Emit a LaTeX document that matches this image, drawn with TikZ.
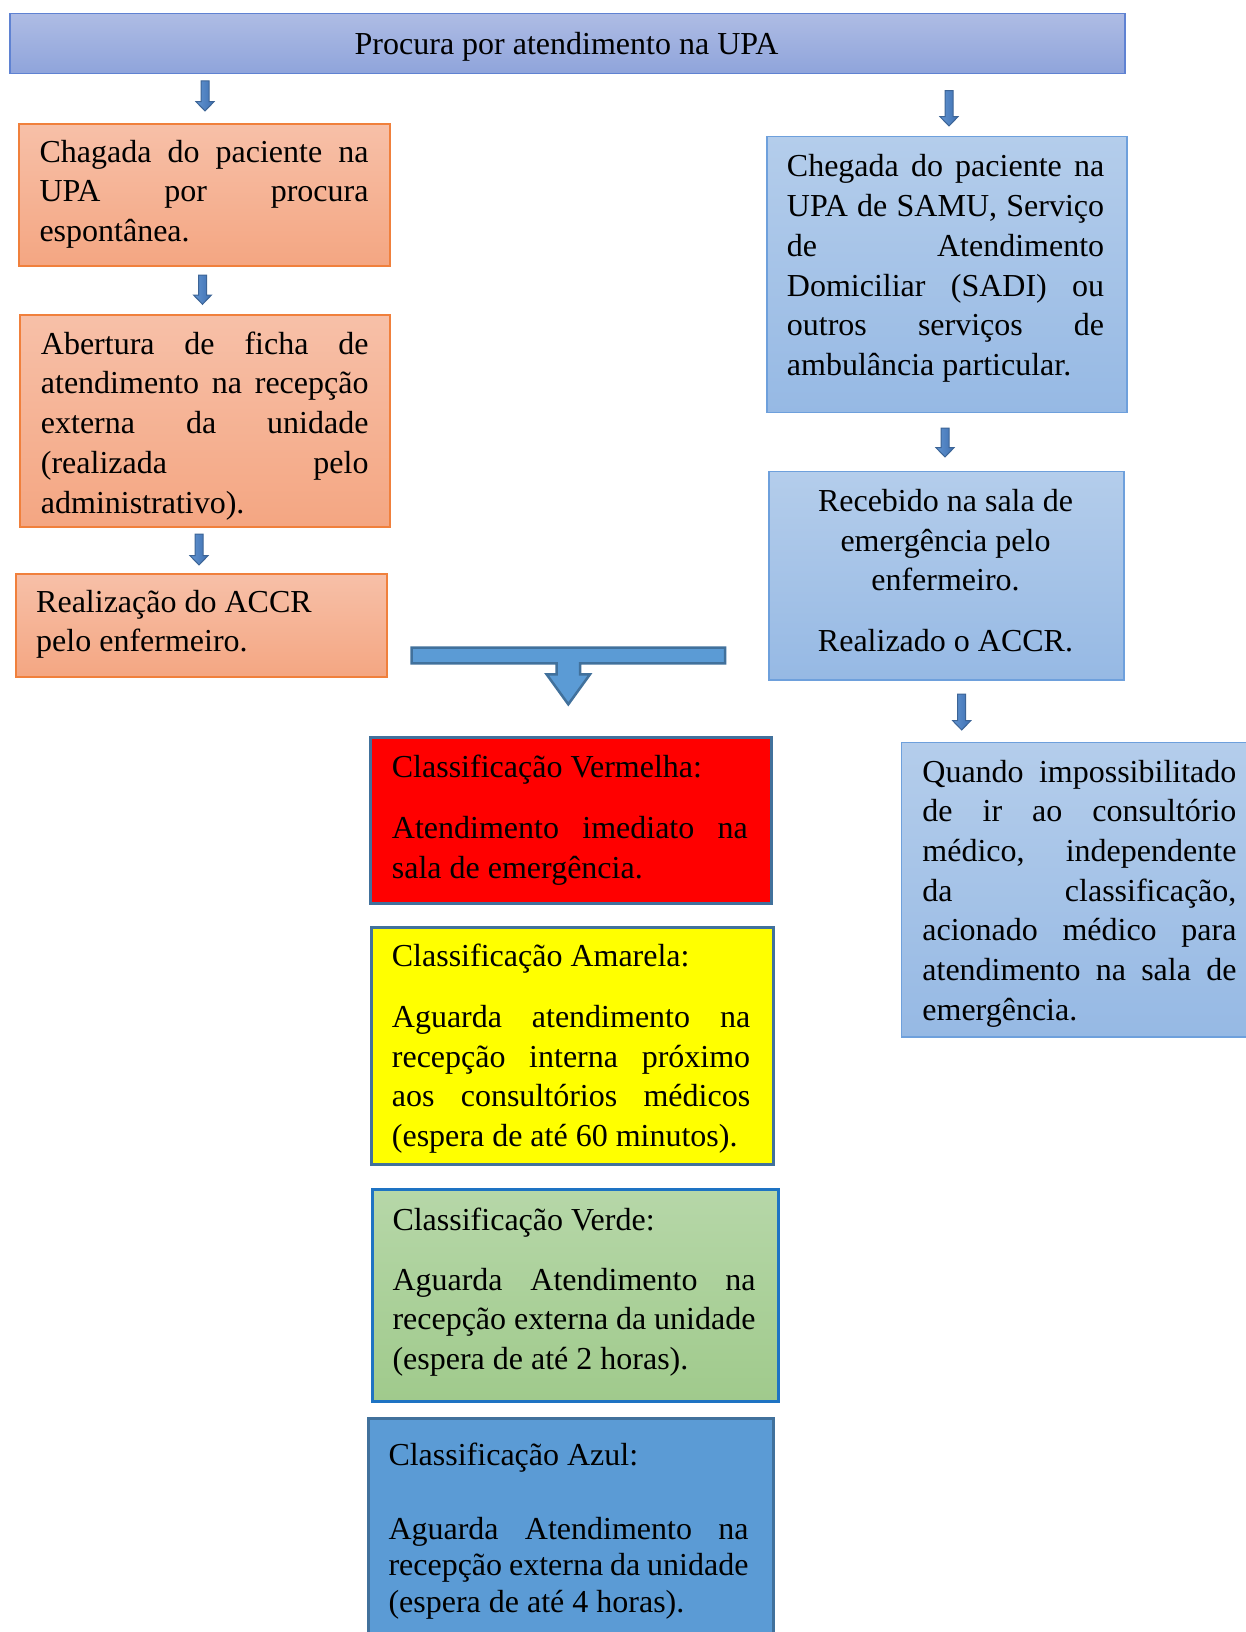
\documentclass[tikz,border=0pt]{standalone}
\usepackage{fontspec}
\setmainfont{Liberation Serif}
\usetikzlibrary{calc}

% palette
\definecolor{barTop}{RGB}{174,188,228}
\definecolor{barBot}{RGB}{143,164,219}
\definecolor{barLine}{RGB}{95,130,210}
\definecolor{orTop}{RGB}{247,192,168}
\definecolor{orBot}{RGB}{244,166,130}
\definecolor{orLine}{RGB}{240,128,60}
\definecolor{skyTop}{RGB}{180,205,235}
\definecolor{skyBot}{RGB}{150,185,228}
\definecolor{skyLine}{RGB}{110,160,220}
\definecolor{frameLine}{RGB}{65,113,156}
\definecolor{redFill}{RGB}{255,0,0}
\definecolor{yelFill}{RGB}{255,255,0}
\definecolor{grnTop}{RGB}{182,215,168}
\definecolor{grnBot}{RGB}{160,202,140}
\definecolor{grnLine}{RGB}{30,115,195}
\definecolor{azul}{RGB}{91,155,213}
\definecolor{arL}{RGB}{98,148,208}
\definecolor{arR}{RGB}{62,112,178}
\definecolor{arLine}{RGB}{60,100,150}

% width of the current text column, and one justified line of it
\newlength\colw
\newcommand\jl[1]{\leavevmode\hbox to \colw{\spaceskip=0.25em plus 1fil minus 0.1em\relax #1}}

% small block arrow pointing down: x, top, bottom
\newcommand\downblock[3]{%
  \path[smallarrow] (#1-4,#2) -- (#1+4,#2) -- (#1+4,#3-9.3) -- (#1+9,#3-9.3)
    -- (#1,#3) -- (#1-9,#3-9.3) -- (#1-4,#3-9.3) -- cycle;}

\tikzset{
  box/.style={rectangle, anchor=north west, inner sep=0pt, draw},
  titlebar/.style={box, top color=barTop, bottom color=barBot, draw=barLine, line width=1.5pt},
  orangebox/.style={box, top color=orTop, bottom color=orBot, draw=orLine, line width=2pt},
  skybox/.style={box, top color=skyTop, bottom color=skyBot, draw=skyLine, line width=1.5pt},
  classbox/.style={box, line width=3pt},
  txt/.style={anchor=base west, inner sep=0pt, align=flush left, text width=#1,
    execute at begin node={\setlength\colw{#1}},
    font=\fontsize{32}{39.6}\selectfont},
  smallarrow/.style={left color=arL, right color=arR, draw=arLine, line width=1pt},
  bigarrow/.style={fill=azul, draw=frameLine, line width=2.5pt, line join=miter},
}

\begin{document}
\frenchspacing
\begin{tikzpicture}[x=1pt, y=-1pt]
\useasboundingbox (0,0) rectangle (1246,1632);
\fill[white] (0,0) rectangle (1246,1632);
\clip (0,0) rectangle (1246,1632);

% title bar
\node[titlebar, minimum width=1115pt, minimum height=59.7pt] (top) at (9,13) {};
\node[anchor=base, inner sep=0pt, font=\fontsize{32}{39.5}\selectfont] (topt)
  at (566.5,54.3) {Procura por atendimento na UPA};

% left column: walk-in patients
\node[orangebox, minimum width=371pt, minimum height=142.3pt] (l1) at (18.3,122.7) {};
\node[txt=329pt] (l1t) at (39.3,162.2)
  {\jl{Chagada do paciente na}\\ \jl{UPA por procura}\\ espontânea.};

\node[orangebox, minimum width=370pt, minimum height=212pt] (l2) at (19.3,314) {};
\node[txt=327.6pt, font=\fontsize{32}{39.8}\selectfont] (l2t) at (40.7,354)
  {\jl{Abertura de ficha de}\\ \jl{atendimento na recepção}\\ \jl{externa da unidade}\\
   \jl{(realizada pelo}\\ administrativo).};

\node[orangebox, minimum width=371pt, minimum height=103.3pt] (l3) at (15,572.7) {};
\node[txt=340pt] (l3t) at (36,612)
  {Realização do ACCR\\ pelo enfermeiro.};

% right column: ambulance arrivals
\node[skybox, minimum width=360pt, minimum height=275.7pt] (r1) at (766,136) {};
\node[txt=317.3pt, font=\fontsize{32}{39.8}\selectfont] (r1t) at (786.7,176.8)
  {\jl{Chegada do paciente na}\\ \jl{UPA de SAMU, Serviço}\\ \jl{de Atendimento}\\
   \jl{Domiciliar (SADI) ou}\\ \jl{outros serviços de}\\ ambulância particular.};

\node[skybox, minimum width=355pt, minimum height=208.6pt] (r2) at (768.3,470.7) {};
\node[txt=340pt, anchor=base, align=flush center,
  font=\fontsize{32}{39.5}\selectfont] (r2t) at (945.5,511.5)
  {Recebido na sala de\\ emergência pelo\\ enfermeiro.\\[21.5pt] Realizado o ACCR.};

\node[skybox, minimum width=364.3pt, minimum height=294.3pt] (r3) at (900.7,741.7) {};
\node[txt=314pt, font=\fontsize{32}{39.7}\selectfont] (r3t) at (922.2,782)
  {\jl{Quando impossibilitado}\\ \jl{de ir ao consultório}\\ \jl{médico, independente}\\
   \jl{da classificação,}\\ \jl{acionado médico para}\\ \jl{atendimento na sala de}\\
   emergência.};

% merge arrow into the classification stack
\path[bigarrow] (411.7,647.7) -- (725,647.7) -- (725,663.3) -- (580,663.3)
  -- (580,674.3) -- (590,674.3) -- (568.3,704.3) -- (546.6,674.3) -- (556.7,674.3)
  -- (556.7,663.3) -- (411.7,663.3) -- cycle;

% classification boxes
\node[classbox, fill=redFill, draw=frameLine, minimum width=400.7pt, minimum height=166pt]
  (red) at (369.3,735.7) {};
\node[txt=356pt, font=\fontsize{32}{39.5}\selectfont] (redt) at (391.7,777.2)
  {Classificação Vermelha:\\[22pt] \jl{Atendimento imediato na}\\ sala de emergência.};

\node[classbox, fill=yelFill, draw=frameLine, minimum width=402.3pt, minimum height=237.6pt]
  (yel) at (370,925.7) {};
\node[txt=358.3pt, font=\fontsize{32}{39.6}\selectfont] (yelt) at (391.7,966.5)
  {Classificação Amarela:\\[21.5pt] \jl{Aguarda atendimento na}\\
   \jl{recepção interna próximo}\\ \jl{aos consultórios médicos}\\
   (espera de até 60 minutos).};

\node[classbox, top color=grnTop, bottom color=grnBot, draw=grnLine,
  minimum width=406pt, minimum height=211.7pt] (grn) at (370.7,1188.3) {};
\node[txt=363pt, font=\fontsize{32}{39.6}\selectfont] (grnt) at (392.3,1230)
  {Classificação Verde:\\[20.4pt] \jl{Aguarda Atendimento na}\\
   \jl{recepção externa da unidade}\\ (espera de até 2 horas).};

\node[classbox, fill=azul, draw=frameLine, minimum width=405pt, minimum height=240pt]
  (blu) at (367.3,1416.7) {};
\node[txt=360pt, font=\fontsize{32}{36.9}\selectfont] (blut) at (388.3,1465.5)
  {Classificação Azul:\\[36.6pt] \jl{Aguarda Atendimento na}\\
   \jl{recepção externa da unidade}\\ (espera de até 4 horas).};

% small step arrows
\downblock{205}{81}{111}
\downblock{202.5}{275}{304.3}
\downblock{199}{534}{565}
\downblock{949}{90.7}{126}
\downblock{945}{428}{457}
\downblock{961.7}{694}{730}
\end{tikzpicture}
\end{document}
